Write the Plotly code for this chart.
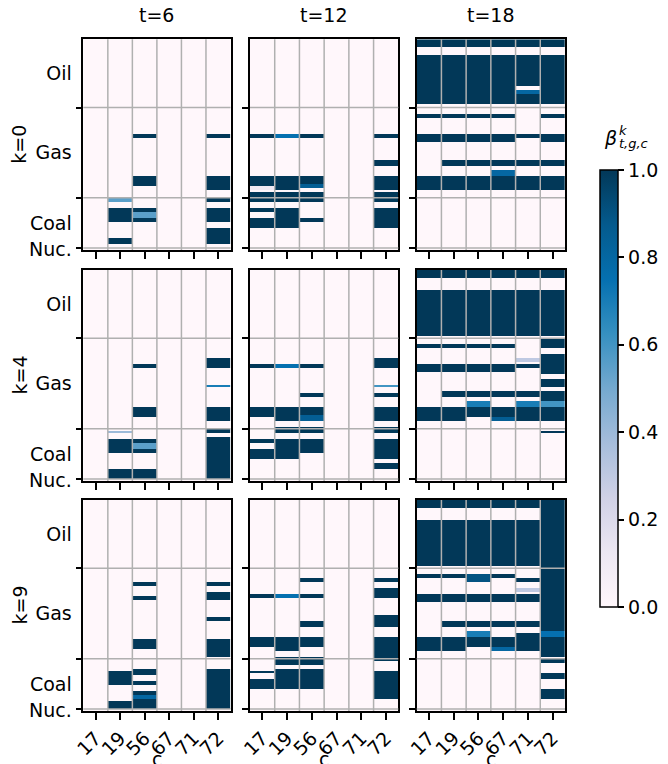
import numpy as np
import plotly.graph_objects as go

# ---------------- data ----------------
c_labels = ["17", "19", "56", "67", "71", "72"]
t_values = [6, 12, 18]
k_values = [0, 4, 9]
group_names = ["Oil", "Gas", "Coal", "Nuc."]
group_sizes = [34, 45, 25, 1]   # number of generators per fuel group

# bands of beta values: (column index, first generator row, last generator row, value)
bands_k0_t6 = [
    (1, 79, 80, 0.55), (1, 84, 90, 1.0), (1, 99, 101, 1.0),
    (2, 47, 48, 1.0), (2, 68, 72, 1.0), (2, 84, 85, 1.0), (2, 86, 88, 0.55), (2, 89, 90, 1.0),
    (5, 47, 48, 1.0), (5, 68, 74, 1.0), (5, 79, 80, 1.0), (5, 84, 90, 1.0), (5, 94, 101, 1.0),
]
bands_k0_t12 = [
    (0, 47, 48, 1.0), (0, 68, 72, 1.0), (0, 73, 74, 0.1), (0, 76, 80, 1.0), (0, 84, 85, 1.0), (0, 89, 93, 1.0),
    (1, 47, 48, 0.75), (1, 68, 74, 1.0), (1, 76, 80, 1.0), (1, 84, 93, 1.0),
    (2, 47, 48, 1.0), (2, 68, 71, 1.0), (2, 72, 73, 0.85), (2, 76, 80, 1.0), (2, 89, 90, 1.0),
    (5, 47, 48, 1.0), (5, 60, 62, 1.0), (5, 68, 74, 1.0), (5, 76, 80, 1.0), (5, 84, 93, 1.0),
]
bands_k0_t18 = [
    (0, 0, 3, 1.0), (0, 8, 31, 1.0), (0, 37, 38, 1.0), (0, 47, 50, 1.0), (0, 68, 74, 1.0),
    (1, 0, 3, 1.0), (1, 8, 31, 1.0), (1, 37, 38, 1.0), (1, 47, 50, 1.0), (1, 60, 62, 1.0), (1, 68, 74, 1.0),
    (2, 0, 3, 1.0), (2, 8, 31, 1.0), (2, 37, 38, 1.0), (2, 47, 50, 1.0), (2, 60, 62, 1.0), (2, 68, 74, 1.0),
    (3, 0, 3, 1.0), (3, 8, 31, 1.0), (3, 37, 38, 1.0), (3, 47, 50, 1.0), (3, 60, 62, 1.0), (3, 65, 67, 0.8), (3, 68, 74, 1.0),
    (4, 0, 3, 1.0), (4, 8, 22, 1.0), (4, 25, 26, 0.8), (4, 27, 31, 1.0), (4, 47, 48, 1.0), (4, 60, 62, 1.0), (4, 68, 74, 1.0),
    (5, 0, 3, 1.0), (5, 8, 31, 1.0), (5, 37, 38, 1.0), (5, 47, 50, 1.0), (5, 60, 62, 1.0), (5, 68, 74, 1.0),
]
bands_k4_t6 = [
    (1, 80, 80, 0.4), (1, 84, 90, 1.0), (1, 99, 103, 1.0),
    (2, 47, 48, 1.0), (2, 68, 72, 1.0), (2, 84, 85, 1.0), (2, 86, 88, 0.55), (2, 89, 90, 1.0), (2, 99, 103, 1.0),
    (5, 44, 48, 1.0), (5, 57, 57, 0.7), (5, 68, 74, 1.0), (5, 79, 80, 1.0), (5, 83, 103, 1.0),
]
bands_k4_t12 = [
    (0, 47, 48, 1.0), (0, 68, 72, 1.0), (0, 84, 85, 1.0), (0, 89, 93, 1.0),
    (1, 47, 48, 0.75), (1, 68, 74, 1.0), (1, 78, 80, 1.0), (1, 84, 93, 1.0),
    (2, 47, 48, 1.0), (2, 61, 62, 1.0), (2, 68, 71, 1.0), (2, 72, 74, 0.85), (2, 78, 80, 1.0), (2, 84, 90, 1.0),
    (5, 44, 48, 1.0), (5, 57, 57, 0.6), (5, 61, 62, 1.0), (5, 68, 74, 1.0), (5, 78, 80, 1.0), (5, 84, 93, 1.0), (5, 96, 98, 1.0),
]
bands_k4_t18 = [
    (0, 0, 3, 1.0), (0, 10, 32, 1.0), (0, 37, 38, 1.0), (0, 47, 50, 1.0), (0, 68, 74, 1.0),
    (1, 0, 3, 1.0), (1, 10, 32, 1.0), (1, 37, 38, 1.0), (1, 47, 50, 1.0), (1, 60, 62, 1.0), (1, 68, 74, 1.0),
    (2, 0, 3, 1.0), (2, 10, 32, 1.0), (2, 37, 38, 1.0), (2, 47, 50, 1.0), (2, 60, 62, 1.0), (2, 65, 67, 0.7), (2, 68, 72, 1.0),
    (3, 0, 3, 1.0), (3, 10, 32, 1.0), (3, 37, 38, 1.0), (3, 47, 50, 1.0), (3, 60, 62, 1.0), (3, 68, 72, 1.0), (3, 73, 74, 0.85),
    (4, 0, 3, 1.0), (4, 10, 32, 1.0), (4, 44, 45, 0.3), (4, 47, 48, 1.0), (4, 60, 62, 1.0), (4, 65, 67, 0.7), (4, 68, 74, 1.0),
    (5, 0, 3, 1.0), (5, 10, 32, 1.0), (5, 34, 38, 1.0), (5, 42, 51, 1.0), (5, 54, 57, 1.0), (5, 60, 64, 1.0),
    (5, 65, 67, 0.6), (5, 68, 74, 1.0), (5, 80, 80, 1.0),
]
bands_k9_t6 = [
    (1, 85, 91, 1.0), (1, 100, 103, 1.0),
    (2, 41, 42, 1.0), (2, 48, 49, 1.0), (2, 69, 73, 1.0), (2, 84, 86, 1.0), (2, 90, 91, 1.0),
    (2, 95, 96, 1.0), (2, 97, 98, 0.8), (2, 99, 103, 1.0),
    (5, 41, 42, 1.0), (5, 46, 49, 1.0), (5, 58, 59, 1.0), (5, 69, 77, 1.0), (5, 84, 103, 1.0),
]
bands_k9_t12 = [
    (0, 47, 48, 1.0), (0, 68, 72, 1.0), (0, 85, 85, 1.0), (0, 89, 93, 1.0),
    (1, 47, 48, 0.75), (1, 68, 74, 1.0), (1, 78, 81, 1.0), (1, 84, 93, 1.0),
    (2, 39, 40, 1.0), (2, 47, 48, 1.0), (2, 60, 62, 1.0), (2, 68, 72, 1.0), (2, 78, 81, 1.0), (2, 84, 93, 1.0),
    (5, 39, 40, 1.0), (5, 44, 48, 1.0), (5, 57, 62, 1.0), (5, 68, 79, 1.0), (5, 85, 98, 1.0),
]
bands_k9_t18 = [
    (0, 0, 3, 1.0), (0, 10, 32, 1.0), (0, 37, 38, 1.0), (0, 47, 50, 1.0), (0, 68, 74, 1.0),
    (1, 0, 3, 1.0), (1, 10, 32, 1.0), (1, 37, 38, 1.0), (1, 47, 50, 1.0), (1, 60, 62, 1.0), (1, 68, 74, 1.0),
    (2, 0, 3, 1.0), (2, 10, 32, 1.0), (2, 37, 40, 0.9), (2, 47, 50, 1.0), (2, 60, 62, 1.0), (2, 65, 67, 0.7), (2, 68, 72, 1.0),
    (3, 0, 3, 1.0), (3, 10, 32, 1.0), (3, 37, 38, 1.0), (3, 47, 50, 1.0), (3, 60, 62, 1.0), (3, 68, 72, 1.0), (3, 73, 74, 0.8),
    (4, 0, 3, 1.0), (4, 10, 32, 1.0), (4, 39, 40, 1.0), (4, 44, 45, 0.3), (4, 47, 50, 1.0), (4, 60, 62, 1.0), (4, 66, 74, 1.0),
    (5, 0, 64, 1.0), (5, 65, 67, 0.75), (5, 68, 77, 1.0), (5, 79, 80, 1.0), (5, 86, 88, 1.0), (5, 94, 98, 1.0),
]

panel_bands = [
    [bands_k0_t6, bands_k0_t12, bands_k0_t18],
    [bands_k4_t6, bands_k4_t12, bands_k4_t18],
    [bands_k9_t6, bands_k9_t12, bands_k9_t18],
]

# ---------------- layout geometry (window pixels) ----------------
W, H = 668, 764
FONT = "DejaVu Sans"
FS = 19
col_px = [(83.3, 230.5), (250.0, 398.3), (416.7, 565.0)]
row_px = [(39.3, 250.0), (270.0, 481.0), (500.0, 711.0)]


def px(xw):
    return xw / W


def py(yw):
    return 1 - yw / H


n_rows = sum(group_sizes)
bounds = np.cumsum(group_sizes)
group_centers = [(b - s + b - 1) / 2 for b, s in zip(bounds, group_sizes)]
group_bounds = [b - 0.5 for b in bounds[:-1]]

fig = go.Figure()
shapes = []
annotations = []
layout_axes = {}

for r in range(3):
    for c in range(3):
        n = r * 3 + c + 1
        xn = "x" if n == 1 else f"x{n}"
        yn = "y" if n == 1 else f"y{n}"
        z = np.zeros((n_rows, len(c_labels)))
        for (ci, a, b, v) in panel_bands[r][c]:
            z[a:b + 1, ci] = v
        fig.add_trace(go.Heatmap(
            z=z, x=list(range(len(c_labels))), y=list(range(n_rows)),
            xaxis=xn, yaxis=yn, colorscale="PuBu", zmin=0, zmax=1,
            showscale=(n == 1),
            colorbar=dict(
                x=px(600), xanchor="left", xpad=0,
                y=py(388.5), yanchor="middle", ypad=0,
                lenmode="pixels", len=437, thickness=18,
                outlinewidth=1.5, outlinecolor="black",
                tickmode="linear", tick0=0, dtick=0.2, tickformat=".1f",
                ticks="outside", ticklen=6, tickwidth=1.5, tickcolor="black",
                tickfont=dict(family=FONT, size=FS, color="black"),
            ),
            hoverinfo="skip",
        ))
        x0p, x1p = col_px[c]
        y0p, y1p = row_px[r]
        layout_axes["xaxis" if n == 1 else f"xaxis{n}"] = dict(
            domain=[px(x0p), px(x1p)], anchor=yn, automargin=False,
            range=[-0.5, len(c_labels) - 0.5],
            tickmode="array", tickvals=list(range(len(c_labels))), ticktext=c_labels,
            showticklabels=(r == 2), tickangle=-45,
            ticks="outside", ticklen=7, tickwidth=1.5, tickcolor="black",
            showline=True, mirror=True, linecolor="black", linewidth=1.5,
            showgrid=False, zeroline=False,
            tickfont=dict(family=FONT, size=FS, color="black"),
        )
        layout_axes["yaxis" if n == 1 else f"yaxis{n}"] = dict(
            domain=[py(y1p), py(y0p)], anchor=xn, automargin=False,
            range=[n_rows - 0.5, -0.5],
            tickmode="array", tickvals=group_centers, ticktext=group_names,
            showticklabels=(c == 0),
            ticks="outside", ticklen=6, tickcolor="rgba(0,0,0,0)",
            minor=dict(tickmode="array", tickvals=group_bounds, ticks="outside",
                       ticklen=6, tickwidth=1.5, tickcolor="black", showgrid=False),
            showline=True, mirror=True, linecolor="black", linewidth=1.5,
            showgrid=False, zeroline=False,
            tickfont=dict(family=FONT, size=FS, color="black"),
        )
        # grid lines drawn above the cells
        for k in range(len(c_labels) - 1):
            shapes.append(dict(type="line", xref=xn, yref=f"{yn} domain",
                               x0=k + 0.5, x1=k + 0.5, y0=0, y1=1,
                               line=dict(color="#b0b0b0", width=1.5), layer="above"))
        for gb in group_bounds:
            shapes.append(dict(type="line", xref=f"{xn} domain", yref=yn,
                               x0=0, x1=1, y0=gb, y1=gb,
                               line=dict(color="#b0b0b0", width=1.5), layer="above"))

# column titles and x axis titles
for c, t in enumerate(t_values):
    xc = px((col_px[c][0] + col_px[c][1]) / 2)
    annotations.append(dict(text=f"t={t}", x=xc, y=py(15), xref="paper", yref="paper",
                            showarrow=False, xanchor="center", yanchor="middle",
                            font=dict(family=FONT, size=FS, color="black")))
    annotations.append(dict(text="c", x=xc, y=py(745.5), xref="paper", yref="paper",
                            showarrow=False, xanchor="center", yanchor="top",
                            font=dict(family=FONT, size=FS, color="black")))
# row titles
for r, k in enumerate(k_values):
    yc = py((row_px[r][0] + row_px[r][1]) / 2)
    annotations.append(dict(text=f"k={k}", x=px(19), y=yc, xref="paper", yref="paper",
                            showarrow=False, xanchor="center", yanchor="middle", textangle=-90,
                            font=dict(family=FONT, size=FS, color="black")))
# colorbar title
annotations.append(dict(text="<i>β</i>", x=px(610), y=py(138), xref="paper", yref="paper",
                        showarrow=False, xanchor="center", yanchor="middle",
                        font=dict(family=FONT, size=FS, color="black")))
annotations.append(dict(text="<i>k</i>", x=px(617), y=py(130), xref="paper", yref="paper",
                        showarrow=False, xanchor="left", yanchor="middle",
                        font=dict(family=FONT, size=13, color="black")))
annotations.append(dict(text="<i>t,g,c</i>", x=px(617), y=py(144), xref="paper", yref="paper",
                        showarrow=False, xanchor="left", yanchor="middle",
                        font=dict(family=FONT, size=13, color="black")))

fig.update_layout(
    template="none",
    width=W, height=H,
    margin=dict(l=0, r=0, t=0, b=0, autoexpand=False),
    paper_bgcolor="white", plot_bgcolor="white",
    font=dict(family=FONT, size=FS, color="black"),
    shapes=shapes, annotations=annotations,
    showlegend=False,
    **layout_axes,
)

fig.write_html("out.html", config={"displayModeBar": False},
               post_script="document.body.style.margin='0px';")
